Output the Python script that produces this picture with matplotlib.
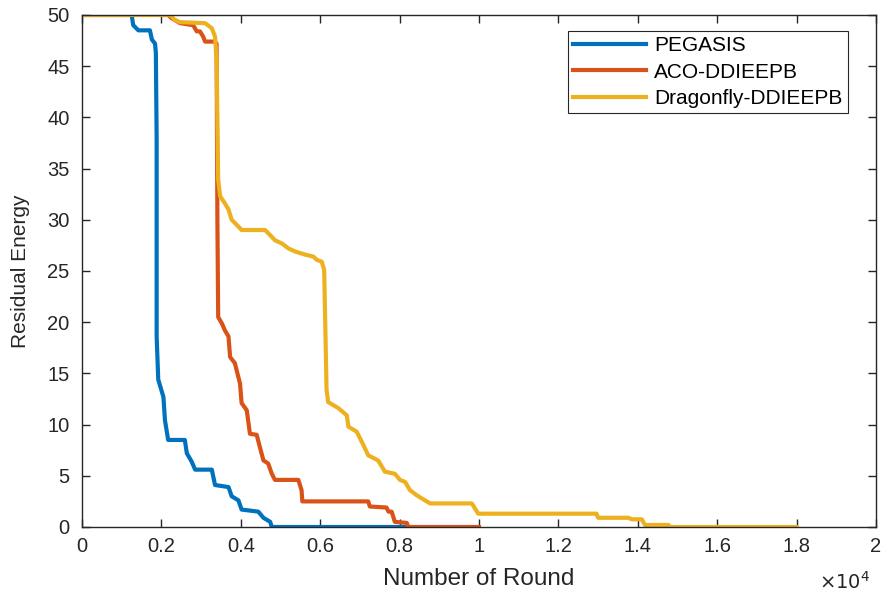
import matplotlib
matplotlib.use('Agg')
import matplotlib.pyplot as plt
import numpy as np
from matplotlib.ticker import FuncFormatter

# 數據 (回合數, 剩餘能量)
pegasis_x = [0, 1250, 1290, 1420, 1710, 1760, 1840, 1860, 1880, 1880, 1920, 2050, 2090,
             2170, 2590, 2640, 2760, 2850, 3270, 3350, 3690, 3770, 3940, 4020, 4440,
             4570, 4740, 4780, 8160]
pegasis_y = [50, 50, 49, 48.5, 48.5, 47.6, 47.2, 46.3, 37.8, 18.6, 14.4, 12.7, 10.4,
             8.5, 8.5, 7.2, 6.4, 5.6, 5.6, 4.1, 3.9, 3.0, 2.6, 1.7, 1.5,
             0.9, 0.5, 0, 0]

aco_x = [0, 2170, 2250, 2470, 2800, 2890, 2970, 3050, 3100, 3350, 3390, 3410, 3430,
         3520, 3600, 3690, 3730, 3850, 3980, 4020, 4150, 4230, 4400, 4480, 4570,
         4690, 4780, 4860, 5450, 5530, 5550, 7210, 7250, 7670, 7720, 7800, 7880,
         8180, 8220, 10000]
aco_y = [50, 50, 49.7, 49.2, 49.0, 48.4, 48.4, 47.9, 47.4, 47.4, 47.2, 30.0, 20.5,
         19.9, 19.2, 18.6, 16.6, 16.0, 14.0, 12.1, 11.4, 9.1, 9.0, 7.8, 6.5,
         6.2, 5.2, 4.6, 4.6, 3.6, 2.5, 2.5, 2.0, 1.9, 1.5, 1.5, 0.5,
         0.4, 0, 0]

dragonfly_x = [0, 2220, 2340, 2470, 3100, 3270, 3350, 3390, 3410, 3430, 3480, 3600,
               3690, 3770, 3900, 4020, 4610, 4740, 4860, 5030, 5200, 5370, 5620,
               5830, 5910, 6040, 6100, 6160, 6200, 6460, 6670, 6710, 6920, 7050,
               7210, 7460, 7630, 7880, 8010, 8140, 8260, 8430, 8640, 8770, 9820,
               9980, 12960, 13000, 13760, 13850, 14100, 14180, 14770, 14810, 18000]
dragonfly_y = [50, 50, 49.5, 49.3, 49.2, 48.7, 47.9, 45.6, 39.7, 33.9, 32.3, 31.6,
               31.0, 30.0, 29.5, 29.0, 29.0, 28.5, 28.0, 27.7, 27.2, 26.9, 26.6,
               26.4, 26.1, 25.9, 25.1, 13.4, 12.2, 11.6, 10.9, 9.8, 9.3, 8.3,
               7.0, 6.5, 5.4, 5.2, 4.6, 4.4, 3.6, 3.1, 2.6, 2.3, 2.3,
               1.3, 1.3, 0.9, 0.9, 0.75, 0.75, 0.2, 0.2, 0, 0]

labels = ['PEGASIS', 'ACO-DDIEEPB', 'Dragonfly-DDIEEPB']
colors = ['#0072BD', '#D95319', '#EDB120']

plt.rcParams['font.family'] = ['Liberation Sans', 'DejaVu Sans']

fig = plt.figure(figsize=(8.81, 5.94), dpi=100)
ax = fig.add_axes([0.0931, 0.1128, 0.9012, 0.862])

series = [(pegasis_x, pegasis_y), (aco_x, aco_y), (dragonfly_x, dragonfly_y)]
for (xs, ys), lab, col in zip(series, labels, colors):
    ax.plot(xs, ys, color=col, linewidth=3, label=lab, solid_joinstyle='round')

ax.set_xlim(0, 20000)
ax.set_ylim(0, 50)
ax.set_xticks(np.arange(0, 20001, 2000))
ax.set_yticks(np.arange(0, 51, 5))
ax.xaxis.set_major_formatter(FuncFormatter(lambda v, p: f'{v / 1e4:g}'))
ax.tick_params(direction='in', top=True, right=True, labelsize=14.5, length=6,
               width=1, colors='#262626')
ax.tick_params(axis='x', pad=7)
ax.tick_params(axis='y', pad=9)
for s in ax.spines.values():
    s.set_color('#262626')
    s.set_linewidth(1)

ax.set_xlabel('Number of Round', fontsize=17.5, color='#262626', labelpad=9)
ax.set_ylabel('Residual Energy', fontsize=15, color='#262626', labelpad=12)
fig.text(0.93, 0.008, r'$\times10^4$', fontsize=14, color='#262626')

leg = ax.legend(loc='upper right', bbox_to_anchor=(0.9647, 0.9688), borderaxespad=0,
                fontsize=15, handlelength=3.5, handletextpad=0.4, fancybox=False,
                labelspacing=0.36, borderpad=0.25, framealpha=1)
leg.get_frame().set_edgecolor('#262626')
leg.get_frame().set_linewidth(0.8)

fig.savefig('out.png', dpi=100)
